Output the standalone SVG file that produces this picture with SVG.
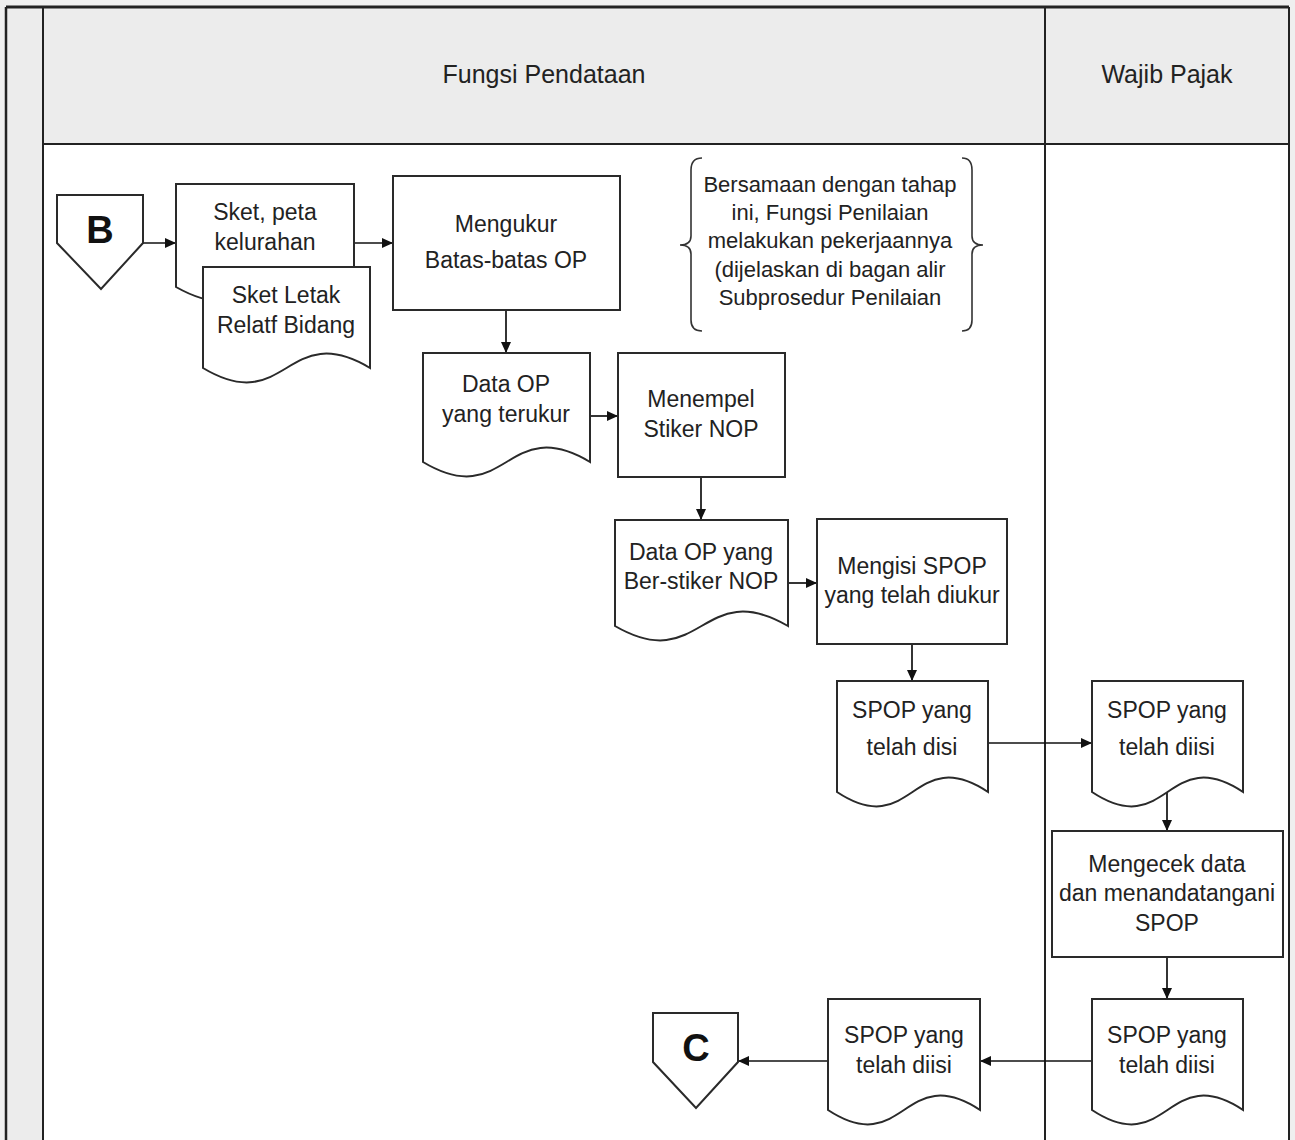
<svg xmlns="http://www.w3.org/2000/svg" width="1295" height="1140" viewBox="0 0 1295 1140">
<defs>
<marker id="arr" markerUnits="userSpaceOnUse" markerWidth="11" markerHeight="10" refX="11" refY="5" orient="auto">
<path d="M0,0 L11,5 L0,10 Z" fill="#111"/>
</marker>
<style>
.shape{fill:#fff;stroke:#2a2a2a;stroke-width:2}
.frame{fill:none;stroke:#222;stroke-width:2}
.t{font-family:"Liberation Sans",Arial,sans-serif;font-size:23px;fill:#222;text-anchor:middle}
.n{font-size:22px}
.h{font-size:25px}
.big{font-family:"Liberation Sans",Arial,sans-serif;font-size:38px;font-weight:bold;fill:#111;text-anchor:middle}
.conn{fill:none;stroke:#111;stroke-width:1.7;marker-end:url(#arr)}
.brace{fill:none;stroke:#333;stroke-width:1.6}
</style>
</defs>
<rect x="0" y="0" width="1295" height="1140" fill="#efefef"/>
<rect x="43" y="144" width="1246" height="996" fill="#fff"/>
<rect x="43" y="7" width="1246" height="137" fill="#ececec"/>
<rect x="6" y="7" width="37" height="1133" fill="#ececec"/>
<g id="frame">
<line x1="6" y1="7" x2="1289" y2="7" stroke="#222" stroke-width="3"/>
<line x1="6" y1="7" x2="6" y2="1140" stroke="#222" stroke-width="2.5"/>
<line x1="43" y1="7" x2="43" y2="1140" class="frame"/>
<line x1="43" y1="144" x2="1289" y2="144" class="frame"/>
<line x1="1045" y1="7" x2="1045" y2="1140" class="frame"/>
<line x1="1289" y1="7" x2="1289" y2="1140" class="frame"/>
</g>
<g id="lane-headers">
<text class="t h" x="544" y="83">Fungsi Pendataan</text>
<text class="t h" x="1167" y="83">Wajib Pajak</text>
</g>
<g id="connectors">
<line class="conn" x1="143" y1="243" x2="176" y2="243"/>
<line class="conn" x1="354" y1="243" x2="393" y2="243"/>
<line class="conn" x1="506" y1="310" x2="506" y2="353"/>
<line class="conn" x1="590" y1="416" x2="618" y2="416"/>
<line class="conn" x1="701" y1="477" x2="701" y2="520"/>
<line class="conn" x1="788" y1="583" x2="817" y2="583"/>
<line class="conn" x1="912" y1="644" x2="912" y2="681"/>
<line class="conn" x1="988" y1="743" x2="1092" y2="743"/>
<line class="conn" x1="1167" y1="792" x2="1167" y2="831"/>
<line class="conn" x1="1167" y1="957" x2="1167" y2="999"/>
<line class="conn" x1="1092" y1="1061" x2="980" y2="1061"/>
<line class="conn" x1="828" y1="1061" x2="738" y2="1061"/>
</g>
<g id="node-B">
<path class="shape" d="M57,195 H143 V243 L101,289 L57,243 Z"/>
<text class="big" x="100" y="243">B</text>
</g>
<g id="node-sket-peta">
<path class="shape" d="M176,184 H354 V287 C265,237 265,337 176,287 Z"/>
<text class="t" x="265" y="220">Sket, peta</text>
<text class="t" x="265" y="250">kelurahan</text>
</g>
<g id="node-sket-letak">
<path class="shape" d="M203,267 H370 V368 C286.5,318 286.5,418 203,368 Z"/>
<text class="t" x="286" y="303">Sket Letak</text>
<text class="t" x="286" y="333">Relatf Bidang</text>
</g>
<g id="node-mengukur">
<rect class="shape" x="393" y="176" width="227" height="134"/>
<text class="t" x="506" y="232">Mengukur</text>
<text class="t" x="506" y="268">Batas-batas OP</text>
</g>
<g id="note-bersamaan">
<path class="brace" d="M702,158 Q691,158 691,170 V236 Q691,245 680,245 Q691,245 691,254 V320 Q691,331 702,331"/>
<path class="brace" d="M962,158 Q972,158 972,170 V236 Q972,245 983,245 Q972,245 972,254 V320 Q972,331 962,331"/>
<text class="t n" x="830" y="192">Bersamaan dengan tahap</text>
<text class="t n" x="830" y="220">ini, Fungsi Penilaian</text>
<text class="t n" x="830" y="248">melakukan pekerjaannya</text>
<text class="t n" x="830" y="277">(dijelaskan di bagan alir</text>
<text class="t n" x="830" y="305">Subprosedur Penilaian</text>
</g>
<g id="node-data-op">
<path class="shape" d="M423,353 H590 V462 C506.5,412 506.5,512 423,462 Z"/>
<text class="t" x="506" y="392">Data OP</text>
<text class="t" x="506" y="422">yang terukur</text>
</g>
<g id="node-menempel">
<rect class="shape" x="618" y="353" width="167" height="124"/>
<text class="t" x="701" y="407">Menempel</text>
<text class="t" x="701" y="437">Stiker NOP</text>
</g>
<g id="node-data-stiker">
<path class="shape" d="M615,520 H788 V626 C701.5,576 701.5,676 615,626 Z"/>
<text class="t" x="701" y="560">Data OP yang</text>
<text class="t" x="701" y="589">Ber-stiker NOP</text>
</g>
<g id="node-mengisi">
<rect class="shape" x="817" y="519" width="190" height="125"/>
<text class="t" x="912" y="574">Mengisi SPOP</text>
<text class="t" x="912" y="603">yang telah diukur</text>
</g>
<g id="node-spop-disi">
<path class="shape" d="M837,681 H988 V792 C912.5,742 912.5,842 837,792 Z"/>
<text class="t" x="912" y="718">SPOP yang</text>
<text class="t" x="912" y="755">telah disi</text>
</g>
<g id="node-spop-wp1">
<path class="shape" d="M1092,681 H1243 V792 C1167.5,742 1167.5,842 1092,792 Z"/>
<text class="t" x="1167" y="718">SPOP yang</text>
<text class="t" x="1167" y="755">telah diisi</text>
</g>
<g id="node-mengecek">
<rect class="shape" x="1052" y="831" width="231" height="126"/>
<text class="t" x="1167" y="872">Mengecek data</text>
<text class="t" x="1167" y="901">dan menandatangani</text>
<text class="t" x="1167" y="931">SPOP</text>
</g>
<g id="node-spop-wp2">
<path class="shape" d="M1092,999 H1243 V1110 C1167.5,1060 1167.5,1160 1092,1110 Z"/>
<text class="t" x="1167" y="1043">SPOP yang</text>
<text class="t" x="1167" y="1073">telah diisi</text>
</g>
<g id="node-spop-fp">
<path class="shape" d="M828,999 H980 V1110 C904,1060 904,1160 828,1110 Z"/>
<text class="t" x="904" y="1043">SPOP yang</text>
<text class="t" x="904" y="1073">telah diisi</text>
</g>
<g id="node-C">
<path class="shape" d="M653,1013 H738 V1062 L696,1108 L653,1062 Z"/>
<text class="big" x="696" y="1061">C</text>
</g>
</svg>
